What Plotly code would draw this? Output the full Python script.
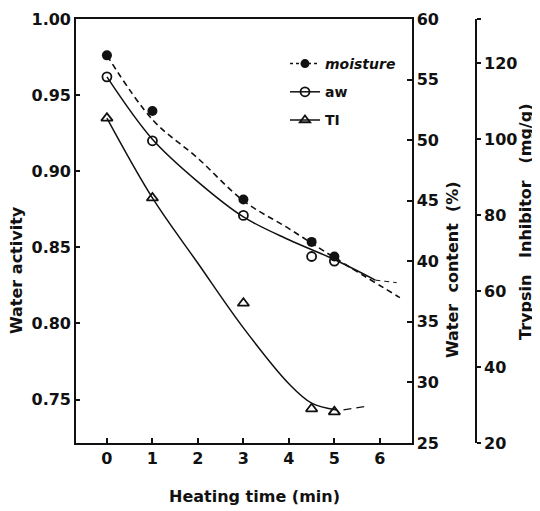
import plotly.graph_objects as go

# ---- Messpunkte ----
time_pts = [0, 1, 3, 4.5, 5]
moisture_pts = [57.0, 52.4, 45.1, 41.6, 40.4]      # Water content (%)
aw_pts = [0.962, 0.920, 0.871, 0.844, 0.841]        # Water activity
ti_pts = [105.5, 84.5, 56.8, 29.0, 28.2]            # Trypsin inhibitor (mg/g)

moist_curve_x = [0, 1, 2, 3, 4, 5, 6.44]
moist_curve_y = [57.0, 51.7, 48.5, 45.0, 42.7, 40.3, 37.0]

aw_curve_x = [0, 1, 2, 3, 4, 5, 5.9]
aw_curve_y = [0.962, 0.921, 0.893, 0.870, 0.855, 0.842, 0.8285]
aw_tail_x = [5.9, 6.37]
aw_tail_y = [0.8285, 0.8268]

ti_curve_x = [0, 1, 2, 3, 4, 4.5, 5.05]
ti_curve_y = [105.5, 84.5, 67.3, 50.3, 35.6, 30.5, 28.7]
ti_tail_x = [5.2, 5.72]
ti_tail_y = [28.7, 29.7]

x_ticks = [0, 1, 2, 3, 4, 5, 6]
aw_ticks = [0.75, 0.80, 0.85, 0.90, 0.95, 1.00]
wc_ticks = [25, 30, 35, 40, 45, 50, 55, 60]
ti_ticks = [20, 40, 60, 80, 100, 120, 131.6]
ti_ticktext = ['20', '40', '60', '80', '100', '120', '']

FONT = 'DejaVu Sans'
BLACK = '#111111'
SP = '\u00a0'  # breiter Wortabstand wie im Original

# Seite hat 8px Rand -> Figur um 8px kleiner; Plotbereich in Bildschirmpixeln
PLOT_LEFT, PLOT_RIGHT_PAPER, PLOT_TOP, PLOT_BOTTOM = 76, 500, 19, 443
PAPER_W = PLOT_RIGHT_PAPER - PLOT_LEFT
PLOT_H = PLOT_BOTTOM - PLOT_TOP


def px_x(px):
    return (px - PLOT_LEFT) / PAPER_W


def px_y(py):
    return (PLOT_BOTTOM - py) / PLOT_H


fig = go.Figure()

# Kurven
fig.add_trace(go.Scatter(x=moist_curve_x, y=moist_curve_y, yaxis='y2', mode='lines',
                         line=dict(color=BLACK, width=1.6, dash='6px,4px', shape='spline'),
                         showlegend=False, hoverinfo='skip'))
fig.add_trace(go.Scatter(x=aw_curve_x, y=aw_curve_y, mode='lines',
                         line=dict(color=BLACK, width=1.5, shape='spline'),
                         showlegend=False, hoverinfo='skip'))
fig.add_trace(go.Scatter(x=aw_tail_x, y=aw_tail_y, mode='lines',
                         line=dict(color=BLACK, width=1.0, dash='5px,4px'),
                         showlegend=False, hoverinfo='skip'))
fig.add_trace(go.Scatter(x=ti_curve_x, y=ti_curve_y, yaxis='y3', mode='lines',
                         line=dict(color=BLACK, width=1.5, shape='spline'),
                         showlegend=False, hoverinfo='skip'))
fig.add_trace(go.Scatter(x=ti_tail_x, y=ti_tail_y, yaxis='y3', mode='lines',
                         line=dict(color=BLACK, width=1.2, dash='8px,5px'),
                         showlegend=False, hoverinfo='skip'))

# Punkte
fig.add_trace(go.Scatter(x=time_pts, y=moisture_pts, yaxis='y2', mode='markers',
                         marker=dict(symbol='circle', size=10, color=BLACK),
                         showlegend=False))
fig.add_trace(go.Scatter(x=time_pts, y=aw_pts, mode='markers',
                         marker=dict(symbol='circle-open', size=9, color=BLACK, line=dict(width=1.8)),
                         showlegend=False))
fig.add_trace(go.Scatter(x=time_pts, y=ti_pts, yaxis='y3', mode='markers',
                         marker=dict(symbol='triangle-up-open', size=10, color=BLACK, line=dict(width=1.8)),
                         showlegend=False))

# Legende (jede Spur in eigener Gruppe, damit tracegroupgap den Abstand setzt)
fig.add_trace(go.Scatter(x=[None], y=[None], mode='lines+markers', name='<i>moisture</i>',
                         legendgroup='m', line=dict(color=BLACK, width=1.5, dash='3px,3px'),
                         marker=dict(symbol='circle', size=9, color=BLACK)))
fig.add_trace(go.Scatter(x=[None], y=[None], mode='lines+markers', name='aw',
                         legendgroup='a', line=dict(color=BLACK, width=1.5),
                         marker=dict(symbol='circle-open', size=9, color=BLACK, line=dict(width=1.8))))
fig.add_trace(go.Scatter(x=[None], y=[None], mode='lines+markers', name='TI',
                         legendgroup='t', line=dict(color=BLACK, width=1.5),
                         marker=dict(symbol='triangle-up-open', size=9, color=BLACK, line=dict(width=1.8))))

axis_font = dict(family=FONT, size=16, color=BLACK, weight='bold')

fig.update_layout(
    width=532, height=503,
    margin=dict(l=PLOT_LEFT - 8, r=532 - (PLOT_RIGHT_PAPER - 8), t=PLOT_TOP - 8, b=503 - (PLOT_BOTTOM - 8)),
    paper_bgcolor='white', plot_bgcolor='white',
    font=dict(family=FONT, size=15, color=BLACK),
    showlegend=True,
    legend=dict(x=px_x(285), y=px_y(48), xanchor='left', yanchor='top',
                bgcolor='rgba(0,0,0,0)',
                font=dict(family=FONT, size=14, color=BLACK, weight='bold'),
                tracegroupgap=7),
    xaxis=dict(domain=[0, px_x(411.7)], range=[-0.68, 6.7], tickvals=x_ticks,
               ticks='inside', ticklen=5, tickcolor=BLACK, tickwidth=1.5,
               showline=True, linecolor=BLACK, linewidth=1.6, mirror=True,
               showgrid=False, zeroline=False, tickfont=axis_font, automargin=False),
    yaxis=dict(range=[0.7215, 1.0], tickvals=aw_ticks, tickformat='.2f',
               ticks='inside', ticklen=4, tickcolor=BLACK, tickwidth=1.5,
               showline=True, linecolor=BLACK, linewidth=1.6, ticklabeloverflow='allow',
               showgrid=False, zeroline=False, tickfont=axis_font, automargin=False),
    yaxis2=dict(range=[25, 60], tickvals=wc_ticks, overlaying='y', side='right', anchor='x',
                ticks='inside', ticklen=5, tickcolor=BLACK, tickwidth=1.5,
                showline=True, linecolor=BLACK, linewidth=1.6, ticklabeloverflow='allow',
                showgrid=False, zeroline=False, tickfont=axis_font, automargin=False),
    yaxis3=dict(range=[20, 131.6], tickvals=ti_ticks, ticktext=ti_ticktext,
                overlaying='y', side='right', anchor='free', position=px_x(476),
                ticks='outside', ticklen=4, tickcolor=BLACK, tickwidth=1.5,
                showline=True, linecolor=BLACK, linewidth=1.6, ticklabeloverflow='allow',
                showgrid=False, zeroline=False, tickfont=axis_font, automargin=False),
)

title_font = dict(family=FONT, size=16, color=BLACK, weight='bold')
fig.add_annotation(text='Heating time (min)', xref='paper', yref='paper',
                   x=px_x(254), y=px_y(497), showarrow=False,
                   font=title_font, xanchor='center', yanchor='middle')
fig.add_annotation(text='Water activity', xref='paper', yref='paper',
                   x=px_x(16), y=px_y(270), showarrow=False, textangle=-90,
                   font=title_font, xanchor='center', yanchor='middle')
fig.add_annotation(text='Water' + SP * 2 + 'content' + SP * 2 + '(%)', xref='paper', yref='paper',
                   x=px_x(452), y=px_y(270), showarrow=False, textangle=-90,
                   font=title_font, xanchor='center', yanchor='middle')
fig.add_annotation(text='Trypsin' + SP * 3 + 'Inhibitor' + SP * 3 + '(mg/g)', xref='paper', yref='paper',
                   x=px_x(525), y=px_y(222), showarrow=False, textangle=-90,
                   font=title_font, xanchor='center', yanchor='middle')

fig.write_html("out.html")
